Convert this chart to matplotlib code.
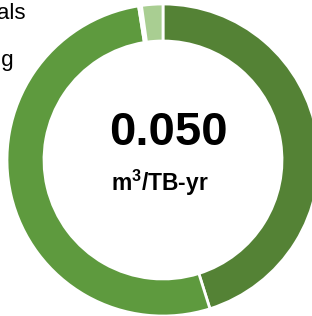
import matplotlib
matplotlib.use("Agg")
import matplotlib.pyplot as plt

# =========================================================
# DATOS
# =========================================================

categorias = ["Operation", "Manufacturing", "Transport", "Materials"]
valores = [0.0225, 0.0261, 0.00015, 0.0011]
colores = ["#548235", "#5E9A3E", "#C5DDB4", "#A9CE92"]

total_texto = "0.050"
unidad_texto = r"m$^{3}$/TB-yr"

# textos de la leyenda (cortados por el borde izquierdo, como en el original)
leyenda_textos = ["Raw materials", "Manufacturing"]

plt.rcParams["font.family"] = ["Liberation Sans", "DejaVu Sans"]
plt.rcParams["mathtext.fontset"] = "custom"
plt.rcParams["mathtext.rm"] = "Liberation Sans:bold"
plt.rcParams["mathtext.it"] = "Liberation Sans:bold"
plt.rcParams["mathtext.bf"] = "Liberation Sans:bold"

# =========================================================
# FIGURA
# =========================================================

fig = plt.figure(figsize=(3.12, 3.16), dpi=100)

ax = fig.add_axes([0, 0, 1, 1])

centro = (163, 316 - 160)

ax.pie(
    valores,
    colors=colores,
    startangle=90,
    counterclock=False,
    radius=156,
    center=centro,
    wedgeprops=dict(width=37, edgecolor="white", linewidth=2)
)

ax.set_xlim(0, 312)
ax.set_ylim(0, 316)
ax.set_aspect("equal")
ax.axis("off")

ax.text(
    168, 316 - 133,
    total_texto,
    fontsize=34,
    fontweight="bold",
    ha="center",
    va="center"
)

ax.text(
    160, 316 - 191,
    unidad_texto,
    fontsize=16.5,
    fontweight="bold",
    ha="center",
    va="baseline"
)

ax.text(25, 316 - 19, leyenda_textos[0], fontsize=16,
        ha="right", va="baseline")
ax.text(14, 316 - 66, leyenda_textos[1], fontsize=16,
        ha="right", va="baseline")

fig.savefig("out.png", dpi=100)
plt.close(fig)
